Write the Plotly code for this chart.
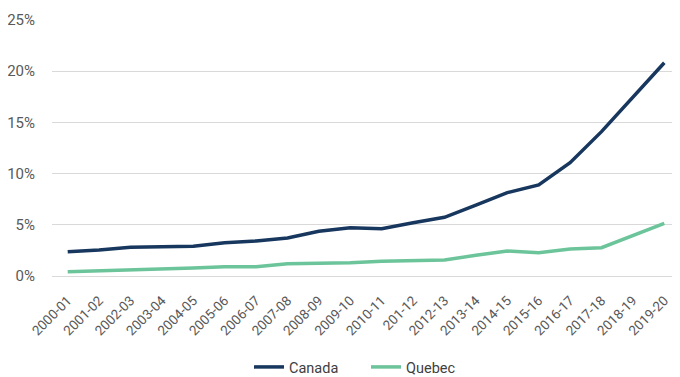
import plotly.graph_objects as go

years = ["2000-01", "2001-02", "2002-03", "2003-04", "2004-05", "2005-06", "2006-07",
         "2007-08", "2008-09", "2009-10", "2010-11", "201-12", "2012-13", "2013-14",
         "2014-15", "2015-16", "2016-17", "2017-18", "2018-19", "2019-20"]
canada = [2.37, 2.54, 2.8, 2.83, 2.9, 3.25, 3.42, 3.71, 4.36, 4.72, 4.62, 5.2, 5.73,
          6.93, 8.14, 8.89, 11.07, 14.1, 17.45, 20.83]
quebec = [0.42, 0.49, 0.62, 0.68, 0.78, 0.91, 0.91, 1.2, 1.24, 1.3, 1.43, 1.46, 1.56,
          2.02, 2.44, 2.28, 2.64, 2.76, 3.94, 5.15]

# the page body adds an 8px offset; margins compensate for it
fig = go.Figure()
fig.add_trace(go.Scatter(x=years, y=canada, mode="lines", name="Canada",
                         line=dict(color="#17375e", width=3.5)))
fig.add_trace(go.Scatter(x=years, y=quebec, mode="lines", name="Quebec",
                         line=dict(color="#6cc49a", width=3.5)))

fig.update_layout(
    width=680, height=377,
    margin=dict(l=44, r=8, t=12, b=109, autoexpand=False),
    paper_bgcolor="white", plot_bgcolor="white",
    font=dict(family="Roboto", color="#595959", size=13),
    showlegend=True,
    legend=dict(orientation="h", x=0.5, xanchor="center", yref="container",
                y=1 - 359 / 377, yanchor="middle", entrywidth=72,
                font=dict(size=14.5, color="#404040"), itemwidth=30),
    hovermode=False,
)
fig.update_xaxes(type="category", range=[-0.5, len(years) - 0.5], tickangle=-45,
                 showgrid=False, showline=False, ticks="", automargin=False,
                 ticklabelstandoff=13,
                 tickfont=dict(size=13.5, color="#595959"))
fig.update_yaxes(range=[0, 25], dtick=5, ticksuffix="%", showgrid=True,
                 gridcolor="#d9d9d9", gridwidth=1, zeroline=True, zerolinecolor="#d9d9d9",
                 zerolinewidth=1, showline=False, automargin=False, ticklabelstandoff=16,
                 tickfont=dict(size=15, color="#595959"))

fig.write_html("out.html")
